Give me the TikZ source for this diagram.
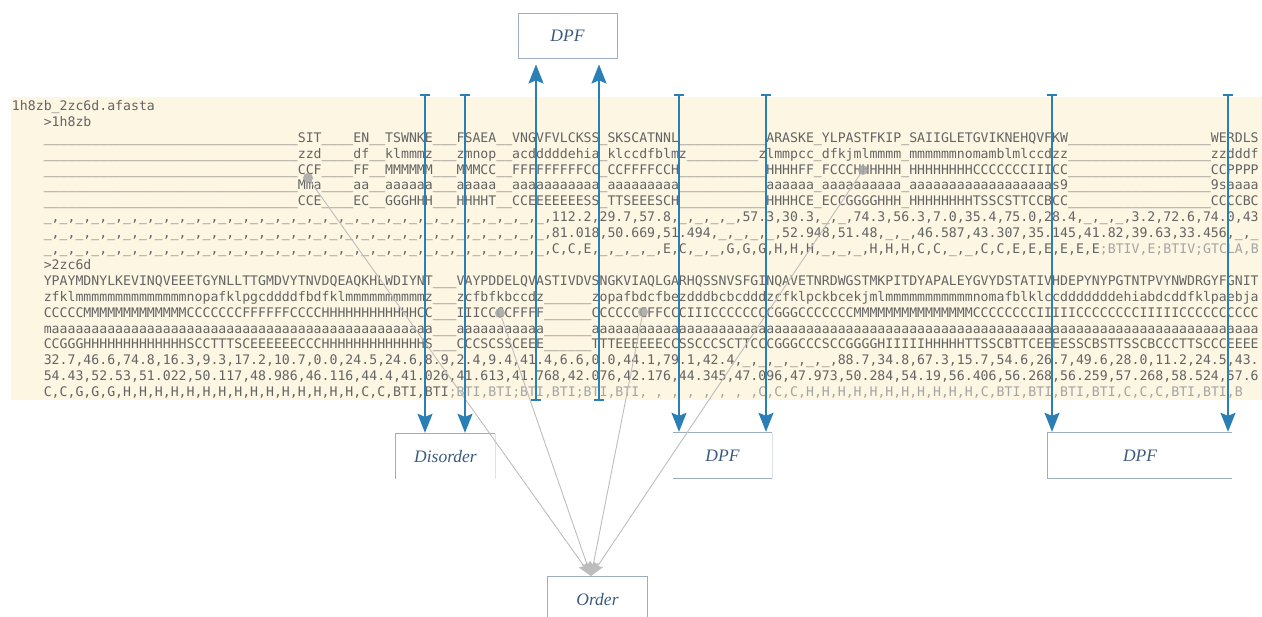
\documentclass[tikz,border=0pt]{standalone}
\usepackage{fontspec}
\setmainfont{Liberation Serif}
\newfontfamily\monof{DejaVu Sans Mono}
\usetikzlibrary{arrows.meta}
\definecolor{panel}{HTML}{FDF6E3}
\definecolor{txt}{HTML}{646464}
\definecolor{ltxt}{HTML}{A4A4A4}
\definecolor{blu}{HTML}{2A80B5}
\definecolor{lab}{HTML}{3A5A80}
\definecolor{bord}{HTML}{9EADBF}
\definecolor{conn}{HTML}{BDBDBD}
\definecolor{dotc}{HTML}{A6A6A6}
\ExplSyntaxOn
\cs_new:Npn \myrep #1#2 { \prg_replicate:nn {#1} {#2} }
\ExplSyntaxOff
\newcommand\usc[1]{\myrep{#1}{\_}}
\newcommand\rpt[2]{\myrep{#1}{#2}}
\frenchspacing
\begin{document}
\begin{tikzpicture}[x=1pt,y=-1pt,
  rowtxt/.style={anchor=base west, inner sep=0pt, outer sep=0pt, text=txt, font=\monof\fontsize{13.19pt}{15.9pt}\selectfont},
  lbox/.style={minimum width=99pt, minimum height=45pt, inner sep=0pt, text=lab, font=\itshape\fontsize{17.5pt}{20pt}\selectfont},
  side/.style={draw=bord, line width=0.9pt},
  faint/.style={draw=bord, draw opacity=0.35, line width=0.8pt},
  bluearr/.style={draw=blu, line width=1.6pt, {Bar[width=10pt]}-{Stealth[length=19pt,width=15pt,inset=3pt]}},
  grayarr/.style={draw=conn, line width=0.9pt, -{Stealth[length=14pt,width=10pt,inset=2pt]}},
  dot/.style={circle, fill=dotc, inner sep=0pt, minimum size=10pt, opacity=0.85}]
\useasboundingbox (0,0) rectangle (1262,617);
\begin{scope}
\clip (11,97) rectangle (1262,400);
\fill[panel] (11,97) rectangle (1262,400);
\node[rowtxt] (r0) at (12,110.5) {1h8zb\_2zc6d.afasta};
\node[rowtxt] (r1) at (43.76,126.4) {>1h8zb};
\node[rowtxt] (r2) at (43.76,142.3) {\usc{32}SIT\usc{4}EN\usc{2}TSWNKE\usc{3}FSAEA\usc{2}VNGVFVLCKSS\_SKSCATNNL\usc{11}ARASKE\_YLPASTFKIP\_SAIIGLETGVIKNEHQVFKW\usc{18}WERDLS};
\node[rowtxt] (r3) at (43.76,158.2) {\usc{32}zzd\usc{4}df\usc{2}klmmmz\usc{3}zmnop\usc{2}acdddddehia\_klccdfblmz\usc{9}zlmmpcc\_dfkjmlmmmm\_mmmmmmnomamblmlccdzz\usc{18}zzdddf};
\node[rowtxt] (r4) at (43.76,174.1) {\usc{32}CCF\usc{4}FF\usc{2}MMMMMM\usc{3}MMMCC\usc{2}FFFFFFFFFCC\_CCFFFFCCH\usc{11}HHHHFF\_FCCCHHHHHH\_HHHHHHHHCCCCCCCIIICC\usc{18}CCPPPP};
\node[rowtxt] (r5) at (43.76,190.0) {\usc{32}Mma\usc{4}aa\usc{2}aaaaaa\usc{3}aaaaa\usc{2}aaaaaaaaaaa\_aaaaaaaaa\usc{11}aaaaaa\_aaaaaaaaaa\_aaaaaaaaaaaaaaaaaas9\usc{18}9saaaa};
\node[rowtxt] (r6) at (43.76,205.9) {\usc{32}CCE\usc{4}EC\usc{2}GGGHHH\usc{3}HHHHT\usc{2}CCEEEEEEESS\_TTSEEESCH\usc{11}HHHHCE\_ECCGGGGHHH\_HHHHHHHHTSSCSTTCCBCC\usc{18}CCCCBC};
\node[rowtxt] (r7) at (43.76,221.8) {\rpt{32}{\_,}112.2,29.7,57.8,\_,\_,\_,\_,57.3,30.3,\_,\_,74.3,56.3,7.0,35.4,75.0,28.4,\_,\_,\_,3.2,72.6,74.0,43};
\node[rowtxt] (r8) at (43.76,237.7) {\rpt{32}{\_,}81.018,50.669,51.494,\_,\_,\_,\_,52.948,51.48,\_,\_,46.587,43.307,35.145,41.82,39.63,33.456,\_,\_};
\node[rowtxt] (r9) at (43.76,253.6) {\rpt{32}{\_,}C,C,E,\_,\_,\_,\_,E,C,\_,\_,G,G,G,H,H,H,\_,\_,\_,H,H,H,C,C,\_,\_,C,C,E,E,E,E,E,E\textcolor{ltxt}{;BTIV,E;BTIV;GTCLA,B}};
\node[rowtxt] (r10) at (43.76,269.5) {>2zc6d};
\node[rowtxt] (r11) at (43.76,285.4) {YPAYMDNYLKEVINQVEEETGYNLLTTGMDVYTNVDQEAQKHLWDIYNT\usc{3}VAYPDDELQVASTIVDVSNGKVIAQLGARHQSSNVSFGINQAVETNRDWGSTMKPITDYAPALEYGVYDSTATIVHDEPYNYPGTNTPVYNWDRGYFGNIT};
\node[rowtxt] (r12) at (43.76,301.3) {zfkl\rpt{14}{m}nopafklpgcddddfbdfkl\rpt{10}{m}z\usc{3}zcfbfkbccdz\usc{6}zopafbdcfbezdddbcbcdddzcfklpckbcekjml\rpt{11}{m}nomafblklccdddddddehiabdcddfklpaebja};
\node[rowtxt] (r13) at (43.76,317.2) {CCCCC\rpt{13}{M}CCCCCCCFFFFFFCCCC\rpt{12}{H}CC\usc{3}IIICCCCFFFF\usc{6}CCCCCCCFFCCCIIICCCCCCCCGGGCCCCCCC\rpt{15}{M}CCCCCCCCIIIIICCCCCCCCIIIIICCCCCCCCCC};
\node[rowtxt] (r14) at (43.76,333.1) {m\rpt{48}{a}\usc{3}\rpt{11}{a}\usc{6}\rpt{84}{a}};
\node[rowtxt] (r15) at (43.76,349.0) {CCGGG\rpt{13}{H}SCCTTTSCEEEEEECCC\rpt{13}{H}S\usc{3}CCCSCSSCEEE\usc{6}TTTEEEEEECCSSCCCSCTTCCCGGGCCCSCCGGGGHIIIIIHHHHHTTSSCBTTCEEEESSCBSTTSSCBCCCTTSCCCEEEE};
\node[rowtxt] (r16) at (43.76,364.9) {32.7,46.6,74.8,16.3,9.3,17.2,10.7,0.0,24.5,24.6,8.9,2.4,9.4,41.4,6.6,0.0,44.1,79.1,42.4,\_,\_,\_,\_,\_,\_,88.7,34.8,67.3,15.7,54.6,26.7,49.6,28.0,11.2,24.5,43.};
\node[rowtxt] (r17) at (43.76,380.8) {54.43,52.53,51.022,50.117,48.986,46.116,44.4,41.026,41.613,41.768,42.076,42.176,44.345,47.096,47.973,50.284,54.19,56.406,56.268,56.259,57.268,58.524,57.6};
\node[rowtxt] (r18) at (43.76,396.7) {C,C,G,G,G,\rpt{15}{H,}C,C,BTI,BTI\textcolor{ltxt}{;BTI,BTI;BTI,BTI;BTI,BTI, , , , , , , ,C,C,C,\rpt{11}{H,}C,BTI,BTI,BTI,BTI,C,C,C,BTI,BTI,B}};
\end{scope}
% label boxes
\node[lbox, draw=bord, line width=0.9pt] (dpftop) at (567.5,35.5) {DPF};
\node[lbox] (dis) at (445.5,456.5) {Disorder};
\draw[side] (dis.south west) -- (dis.north west) -- (dis.north east);
\draw[faint] (dis.north east) -- (dis.south east);
\node[lbox] (dpfm) at (722.5,455.5) {DPF};
\draw[side] (dpfm.north west) -- (dpfm.north east);
\draw[side] (dpfm.south west) -- (dpfm.south east);
\draw[faint] (dpfm.north east) -- (dpfm.south east);
\node[lbox, minimum width=184pt] (dpfr) at (1140,455.5) {DPF};
\draw[side] (dpfr.north east) -- (dpfr.north west) -- (dpfr.south west) -- (dpfr.south east);
\node[lbox] (ord) at (597.5,599.5) {Order};
\draw[side] (ord.south west) -- (ord.north west) -- (ord.north east) -- (ord.south east);
% gray connectors
\node[dot] (p1) at (308,178) {};
\node[dot] (p2) at (500,313) {};
\node[dot] (p3) at (643,312) {};
\node[dot] (p4) at (863,170) {};
\coordinate (oin) at (591,576);
\draw[grayarr] (p1) -- (oin);
\draw[grayarr] (p2) -- (oin);
\draw[grayarr] (p3) -- (oin);
\draw[grayarr] (p4) -- (oin);
% blue arrows down
\coordinate (a1) at (425,94);
\coordinate (a2) at (465,94);
\coordinate (a3) at (679,94);
\coordinate (a4) at (766,94);
\coordinate (a5) at (1052,94);
\coordinate (a6) at (1228,94);
\draw[bluearr, shorten >=1pt] (a1) -- (a1 |- dis.north);
\draw[bluearr, shorten >=1pt] (a2) -- (a2 |- dis.north);
\draw[bluearr, shorten >=1pt] (a3) -- (a3 |- dpfm.north);
\draw[bluearr, shorten >=1pt] (a4) -- (a4 |- dpfm.north);
\draw[bluearr, shorten >=1pt] (a5) -- (a5 |- dpfr.north);
\draw[bluearr, shorten >=1pt] (a6) -- (a6 |- dpfr.north);
% blue arrows up
\coordinate (u1) at (536,401);
\coordinate (u2) at (599,401);
\draw[bluearr, shorten >=6pt] (u1) -- (u1 |- dpftop.south);
\draw[bluearr, shorten >=6pt] (u2) -- (u2 |- dpftop.south);
\end{tikzpicture}
\end{document}
